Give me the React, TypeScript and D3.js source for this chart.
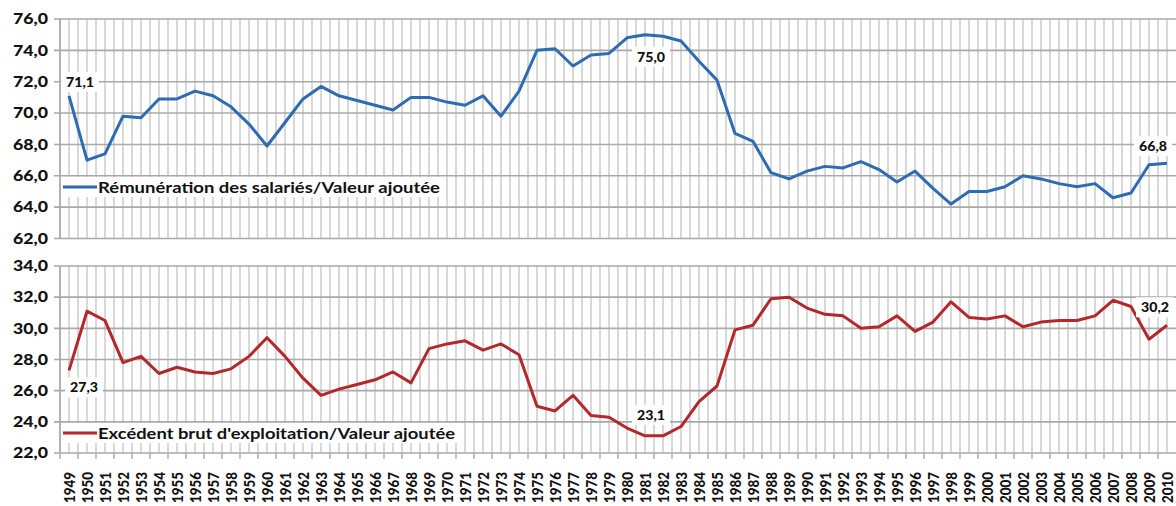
import React from 'react';
import * as d3 from 'd3';

const years = [
  '1949', '1950', '1951', '1952', '1953', '1954', '1955', '1956', '1957', '1958',
  '1959', '1960', '1961', '1962', '1963', '1964', '1965', '1966', '1967', '1968',
  '1969', '1970', '1971', '1972', '1973', '1974', '1975', '1976', '1977', '1978',
  '1979', '1980', '1981', '1982', '1983', '1984', '1985', '1986', '1987', '1988',
  '1989', '1990', '1991', '1992', '1993', '1994', '1995', '1996', '1997', '1998',
  '1999', '2000', '2001', '2002', '2003', '2004', '2005', '2006', '2007', '2008',
  '2009', '2010',
];

// Rémunération des salariés / Valeur ajoutée
const remuneration = [
  71.1, 67.0, 67.4, 69.8, 69.7, 70.9, 70.9, 71.4, 71.1, 70.4,
  69.3, 67.9, 69.4, 70.9, 71.7, 71.1, 70.8, 70.5, 70.2, 71.0,
  71.0, 70.7, 70.5, 71.1, 69.8, 71.4, 74.0, 74.1, 73.0, 73.7,
  73.8, 74.8, 75.0, 74.9, 74.6, 73.3, 72.1, 68.7, 68.2, 66.2,
  65.8, 66.3, 66.6, 66.5, 66.9, 66.4, 65.6, 66.3, 65.2, 64.2,
  65.0, 65.0, 65.3, 66.0, 65.8, 65.5, 65.3, 65.5, 64.6, 64.9,
  66.7, 66.8,
];

// Excédent brut d'exploitation / Valeur ajoutée
const excedent = [
  27.3, 31.1, 30.5, 27.8, 28.2, 27.1, 27.5, 27.2, 27.1, 27.4,
  28.2, 29.4, 28.2, 26.8, 25.7, 26.1, 26.4, 26.7, 27.2, 26.5,
  28.7, 29.0, 29.2, 28.6, 29.0, 28.3, 25.0, 24.7, 25.7, 24.4,
  24.3, 23.6, 23.1, 23.1, 23.7, 25.3, 26.3, 29.9, 30.2, 31.9,
  32.0, 31.3, 30.9, 30.8, 30.0, 30.1, 30.8, 29.8, 30.4, 31.7,
  30.7, 30.6, 30.8, 30.1, 30.4, 30.5, 30.5, 30.8, 31.8, 31.4,
  29.3, 30.2,
];

const topTicks = [62, 64, 66, 68, 70, 72, 74, 76];
const bottomTicks = [22, 24, 26, 28, 30, 32, 34];

const topLegend = 'Rémunération des salariés/Valeur ajoutée';
const bottomLegend = "Excédent brut d'exploitation/Valeur ajoutée";

// indices of the labelled points (first, extreme, last)
const topLabelIdx = [0, 32, 61];
const bottomLabelIdx = [0, 32, 61];

const FONT = 'Lato, "Open Sans", sans-serif';
const BLUE = '#2D6BB3';
const RED = '#B3282B';
const GRID = '#c4c4c4';
const HGRID = '#a9a9a9';

const fmt = (v: number) => d3.format('.1f')(v).replace('.', ',');

const left = 60;
const step = 18.0;
const right = left + years.length * step;

const App = () => {
  const x = d3.scaleBand<string>().domain(years).range([left, right]).padding(0);
  const cx = (i: number) => (x(years[i]) as number) + x.bandwidth() / 2;

  const yTop = d3.scaleLinear().domain([62, 76]).range([238.5, 19]);
  const yBot = d3.scaleLinear().domain([22, 34]).range([453, 266]);

  const topLine = d3.line<number>().x((_, i) => cx(i)).y(d => yTop(d));
  const botLine = d3.line<number>().x((_, i) => cx(i)).y(d => yBot(d));

  // vertical gridlines at category edges and centres
  const vlines: number[] = [];
  years.forEach((yr, i) => {
    vlines.push(x(yr) as number);
    vlines.push(cx(i));
  });

  const panel = (y: d3.ScaleLinear<number, number>, ticks: number[], key: string) => {
    const [y0, y1] = y.range();
    return (
      <g key={key}>
        {vlines.map((vx, i) => (
          <line key={'v' + i} x1={vx} x2={vx} y1={y1} y2={y0} stroke={GRID} strokeWidth={1.3} />
        ))}
        {ticks.map(t => (
          <g key={'h' + t}>
            <line x1={left - 6} x2={1176} y1={y(t)} y2={y(t)} stroke={HGRID} strokeWidth={1.6} />
            <text x={48} y={y(t)} dy="0.36em" textAnchor="end" fontFamily={FONT} fontWeight={900}
              fontSize={14.5} textLength={35} lengthAdjust="spacingAndGlyphs" fill="#111">{fmt(t)}</text>
          </g>
        ))}
        <line x1={left} x2={left} y1={y1} y2={y0} stroke={HGRID} strokeWidth={1.6} />
      </g>
    );
  };

  const dataLabel = (px: number, py: number, v: number, key: string) => (
    <g key={key}>
      <rect x={px - 19} y={py - 10} width={38} height={20} fill="#fff" />
      <text x={px} y={py} dy="0.36em" textAnchor="middle" fontFamily={FONT} fontWeight={900}
        fontSize={13.5} textLength={28} lengthAdjust="spacingAndGlyphs" fill="#111">{fmt(v)}</text>
    </g>
  );

  const topOffsets = [[11, -14], [6, 22], [-14, -17]];
  const botOffsets = [[15, 17], [6, -21], [-12, -18]];

  return (
    <svg width={1176} height={506} style={{ position: 'fixed', top: 0, left: 0, background: '#fff' }}>
      {panel(yTop, topTicks, 'top')}
      {panel(yBot, bottomTicks, 'bot')}

      {/* bottom axis ticks */}
      {years.map((yr, i) => (
        <line key={'t' + i} x1={x(yr) as number} x2={x(yr) as number} y1={453} y2={459}
          stroke={HGRID} strokeWidth={1.4} />
      ))}
      {years.map((yr, i) => (
        <text key={'xl' + i} transform={`translate(${cx(i)},${472}) rotate(-90)`} dy="0.37em"
          textAnchor="end" fontFamily={FONT} fontWeight={900} fontSize={15} textLength={31}
          lengthAdjust="spacingAndGlyphs" fill="#111">{yr}</text>
      ))}

      {/* legends */}
      <rect x={61} y={177} width={384} height={20} fill="#fff" />
      <line x1={63} x2={97} y1={187} y2={187} stroke={BLUE} strokeWidth={3} />
      <text x={98} y={187} dy="0.36em" fontFamily={FONT} fontWeight={700} fontSize={15.5}
        textLength={342} lengthAdjust="spacingAndGlyphs" fill="#111">{topLegend}</text>

      <rect x={61} y={423} width={400} height={20} fill="#fff" />
      <line x1={63} x2={97} y1={433} y2={433} stroke={RED} strokeWidth={3} />
      <text x={98} y={433} dy="0.36em" fontFamily={FONT} fontWeight={700} fontSize={15.5}
        textLength={357} lengthAdjust="spacingAndGlyphs" fill="#111">{bottomLegend}</text>

      <path d={topLine(remuneration) as string} fill="none" stroke={BLUE} strokeWidth={3} strokeLinejoin="round" />
      <path d={botLine(excedent) as string} fill="none" stroke={RED} strokeWidth={3} strokeLinejoin="round" />

      {topLabelIdx.map((idx, k) =>
        dataLabel(cx(idx) + topOffsets[k][0], yTop(remuneration[idx]) + topOffsets[k][1], remuneration[idx], 'tl' + k))}
      {bottomLabelIdx.map((idx, k) =>
        dataLabel(cx(idx) + botOffsets[k][0], yBot(excedent[idx]) + botOffsets[k][1], excedent[idx], 'bl' + k))}
    </svg>
  );
};

export default App;
